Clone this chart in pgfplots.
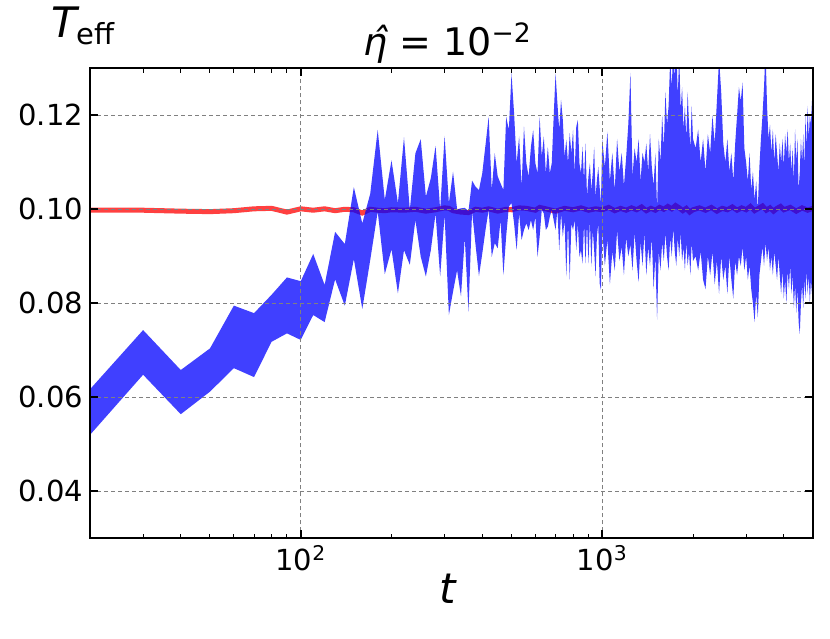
\documentclass[border=0pt]{standalone}
\usepackage{fontspec}
\setmainfont{DejaVu Sans}
\usepackage{pgfplots}
\usepackage{pgfplotstable}
\pgfplotsset{compat=1.18}
\usepgfplotslibrary{fillbetween}
\usetikzlibrary{calc}

% spread of T_eff (lower / upper edge of the blue band)
\pgfplotstableread{
t lo hi
20 0.0520 0.0617
30 0.0648 0.0743
40 0.0564 0.0658
50 0.0612 0.0704
60 0.0662 0.0795
70 0.0643 0.0779
80 0.0718 0.0818
90 0.0736 0.0855
100 0.0722 0.0847
110 0.0775 0.0905
120 0.0760 0.0839
130 0.0851 0.0952
140 0.0795 0.0926
150 0.0894 0.1047
160 0.0788 0.0970
170 0.0892 0.1033
180 0.0995 0.1169
190 0.0862 0.1020
200 0.0915 0.1104
210 0.0821 0.1013
220 0.0913 0.1153
230 0.0882 0.0999
240 0.0977 0.1119
250 0.0899 0.1149
260 0.0857 0.1027
270 0.0913 0.1066
280 0.0991 0.1135
290 0.0857 0.0999
300 0.0988 0.1156
310 0.0775 0.1013
320 0.0825 0.1080
330 0.0870 0.1000
340 0.0815 0.1002
350 0.0940 0.1003
360 0.0782 0.0996
370 0.0995 0.1061
380 0.0924 0.1048
390 0.0858 0.1041
400 0.0906 0.1077
410 0.0956 0.1137
420 0.0999 0.1197
430 0.0899 0.1041
440 0.0928 0.1119
450 0.0917 0.1070
460 0.0977 0.1055
470 0.0860 0.1041
480 0.0942 0.1197
490 0.1006 0.1169
500 0.1013 0.1289
510 0.0970 0.1204
520 0.0913 0.1098
530 0.0991 0.1155
540 0.0935 0.1048
550 0.0956 0.1176
560 0.0970 0.1098
570 0.0956 0.1070
580 0.0977 0.1133
590 0.0956 0.1169
600 0.0984 0.1098
610 0.0899 0.1077
620 0.0942 0.1197
630 0.0999 0.1112
640 0.0991 0.1155
650 0.0956 0.1077
660 0.0963 0.1133
670 0.0984 0.1077
680 0.0999 0.1098
690 0.0977 0.1197
700 0.0956 0.1289
710 0.0999 0.1226
720 0.0913 0.1169
730 0.0991 0.1233
740 0.0942 0.1190
750 0.0977 0.1112
760 0.0857 0.1148
770 0.0970 0.1098
780 0.0850 0.1162
790 0.0970 0.1119
800 0.0956 0.1169
810 0.0977 0.1077
820 0.0913 0.1176
830 0.0970 0.1190
840 0.0899 0.1098
850 0.0913 0.1077
860 0.0885 0.1133
870 0.0970 0.1062
880 0.0885 0.1140
890 0.0970 0.1027
900 0.0885 0.1070
910 0.0977 0.1098
920 0.0878 0.1041
930 0.0956 0.1077
940 0.0913 0.1133
950 0.0857 0.1027
960 0.0942 0.1062
970 0.0970 0.1090
980 0.0843 0.1048
990 0.0828 0.1013
1000 0.0956 0.1148
1020 0.0880 0.1090
1040 0.0935 0.1165
1060 0.0840 0.1060
1080 0.0910 0.1120
1100 0.0870 0.1040
1120 0.0955 0.1150
1140 0.0890 0.1080
1160 0.0920 0.1120
1180 0.0860 0.1050
1200 0.0940 0.1110
1220 0.0900 0.1180
1240 0.0925 0.1290
1260 0.0870 0.1070
1280 0.0950 0.1130
1300 0.0890 0.1100
1320 0.0845 0.1150
1340 0.0930 0.1060
1360 0.0880 0.1120
1380 0.0950 0.1100
1400 0.0860 0.1140
1420 0.0920 0.1080
1440 0.0880 0.1160
1460 0.0940 0.1090
1480 0.0830 0.1050
1500 0.0900 0.1120
1520 0.0765 0.1000
1540 0.0910 0.1150
1560 0.0870 0.1100
1580 0.0930 0.1200
1600 0.0890 0.1130
1620 0.0950 0.1250
1640 0.0900 0.1180
1660 0.0870 0.1220
1680 0.0940 0.1320
1700 0.0900 0.1260
1720 0.0960 0.1340
1740 0.0910 0.1280
1760 0.0880 0.1350
1780 0.0940 0.1240
1800 0.0900 0.1330
1820 0.0950 0.1210
1840 0.0890 0.1260
1860 0.0920 0.1170
1880 0.0870 0.1220
1900 0.0930 0.1150
1920 0.0880 0.1250
1940 0.0910 0.1180
1960 0.0860 0.1130
1980 0.0930 0.1220
2000 0.0890 0.1150
2040 0.0900 0.1130
2080 0.0870 0.1170
2120 0.0910 0.1100
2160 0.0850 0.1150
2200 0.0830 0.1080
2240 0.0900 0.1160
2280 0.0860 0.1120
2320 0.0910 0.1200
2360 0.0840 0.1140
2400 0.0890 0.1230
2440 0.0820 0.1320
2480 0.0900 0.1250
2520 0.0850 0.1140
2560 0.0880 0.1100
2600 0.0820 0.1150
2640 0.0900 0.1080
2680 0.0850 0.1120
2720 0.0810 0.1060
2760 0.0890 0.1140
2800 0.0860 0.1200
2840 0.0900 0.1260
2880 0.0880 0.1230
2920 0.0920 0.1270
2960 0.0870 0.1130
3000 0.0900 0.1100
3040 0.0850 0.1060
3080 0.0880 0.1120
3120 0.0830 0.1040
3160 0.0800 0.1080
3200 0.0760 0.1020
3240 0.0820 0.1060
3280 0.0770 0.1000
3320 0.0860 0.1090
3360 0.0890 0.1150
3400 0.0920 0.1200
3440 0.0880 0.1260
3480 0.0930 0.1340
3520 0.0890 0.1220
3560 0.0920 0.1150
3600 0.0870 0.1180
3640 0.0900 0.1120
3680 0.0860 0.1170
3720 0.0910 0.1100
3760 0.0880 0.1160
3800 0.0850 0.1120
3840 0.0900 0.1080
3880 0.0860 0.1140
3920 0.0820 0.1100
3960 0.0870 0.1150
4000 0.0810 0.1090
4040 0.0850 0.1160
4080 0.0800 0.1120
4120 0.0870 0.1170
4160 0.0830 0.1100
4200 0.0880 0.1140
4240 0.0820 0.1080
4280 0.0860 0.1130
4320 0.0790 0.1060
4360 0.0840 0.1170
4400 0.0780 0.1100
4440 0.0830 0.1150
4480 0.0760 0.1040
4520 0.0735 0.1080
4560 0.0800 0.1150
4600 0.0840 0.1100
4640 0.0790 0.1160
4680 0.0850 0.1090
4720 0.0810 0.1200
4760 0.0870 0.1130
4800 0.0820 0.1220
4840 0.0860 0.1150
4880 0.0800 0.1200
4920 0.0850 0.1180
4960 0.0820 0.1230
5000 0.0840 0.1150
}\band

% red curve, close to 0.1
\pgfplotstableread{
t T
20 0.0998
30 0.0998
40 0.0996
50 0.0995
60 0.0997
70 0.1001
80 0.1002
90 0.0994
100 0.1001
110 0.0998
120 0.1001
130 0.0997
140 0.1000
150 0.0999
160 0.0992
170 0.1000
180 0.0998
190 0.0997
200 0.0999
220 0.0998
240 0.1000
260 0.0996
280 0.0999
300 0.1003
310 0.1002
320 0.0997
340 0.0994
360 0.0993
380 0.1000
400 0.0998
420 0.1001
450 0.0996
480 0.1000
500 0.0999
530 0.1003
560 0.1002
600 0.0998
620 0.1004
650 0.1001
700 0.0996
750 0.1002
800 0.0999
850 0.1003
900 0.0998
950 0.1001
1000 0.0999
1050 0.1004
1100 0.0997
1150 0.1002
1200 0.0998
1250 0.1003
1300 0.0999
1350 0.1005
1400 0.0997
1450 0.1002
1500 0.0998
1550 0.1004
1600 0.1000
1650 0.1006
1700 0.1001
1750 0.1008
1800 0.1003
1850 0.0997
1900 0.1002
1950 0.0994
2000 0.0999
2100 0.1003
2200 0.0998
2300 0.1004
2400 0.0996
2500 0.1002
2600 0.0999
2700 0.1005
2800 0.0998
2900 0.1003
3000 0.0999
3100 0.1006
3200 0.0997
3300 0.1002
3400 0.1007
3500 0.0998
3600 0.1003
3700 0.0996
3800 0.1002
3900 0.1006
4000 0.0999
4200 0.1004
4400 0.0996
4600 0.1003
4800 0.0998
5000 0.1002
}\redline

\begin{document}
\begin{tikzpicture}
\begin{axis}[
    set layers,
    scale only axis, width=361.5pt, height=235pt,
    xmode=log, xmin=20, xmax=5000, ymin=0.03, ymax=0.13,
    xtick={100,1000}, xticklabels={10\textsuperscript{2},10\textsuperscript{3}},
    minor xtick={20,30,40,50,60,70,80,90,200,300,400,500,600,700,800,900,2000,3000,4000},
    ytick={0.04,0.06,0.08,0.10,0.12},
    yticklabels={0.04,0.06,0.08,0.10,0.12},
    tick align=inside, xtick pos=both, ytick pos=both,
    major tick length=4pt, minor tick length=2.2pt,
    major tick style={black, line width=0.8pt},
    minor tick style={black, line width=0.5pt},
    grid=major,
    major grid style={gray, line width=0.5pt, dash pattern=on 2pt off 1.5pt},
    axis line style={line width=0.9pt},
    axis on top,
    ticklabel style={font=\fontsize{14.5}{17}\selectfont},
]
\addplot[draw=none, name path=hi, forget plot] table[x=t, y=hi] {\band};
\addplot[draw=none, name path=lo, forget plot] table[x=t, y=lo] {\band};
\addplot[fill=blue, fill opacity=0.75, draw=none] fill between[of=hi and lo];
\addplot[red, opacity=0.75, line width=2.5pt, on layer=axis background] table[x=t, y=T] {\redline};
\end{axis}
\node[anchor=base, font=\fontsize{19}{21}\selectfont] at ($(current axis.north)+(-2pt,6.5pt)$)
    {{\itshape η̂} = 10\textsuperscript{−2}};
\node[anchor=base west, font=\fontsize{21}{23}\selectfont] at ($(current axis.north west)+(-23pt,15.5pt)$)
    {\itshape T\upshape\raisebox{-0.3ex}{\fontsize{14.5}{16}\selectfont eff}};
\node[anchor=base, font=\fontsize{21}{23}\selectfont\itshape] at ($(current axis.south)+(-2pt,-32.5pt)$) {t};
\path ($(current axis.south west)+(-45pt,-50pt)$) rectangle ($(current axis.north east)+(8.5pt,32.5pt)$);
\end{tikzpicture}
\end{document}
